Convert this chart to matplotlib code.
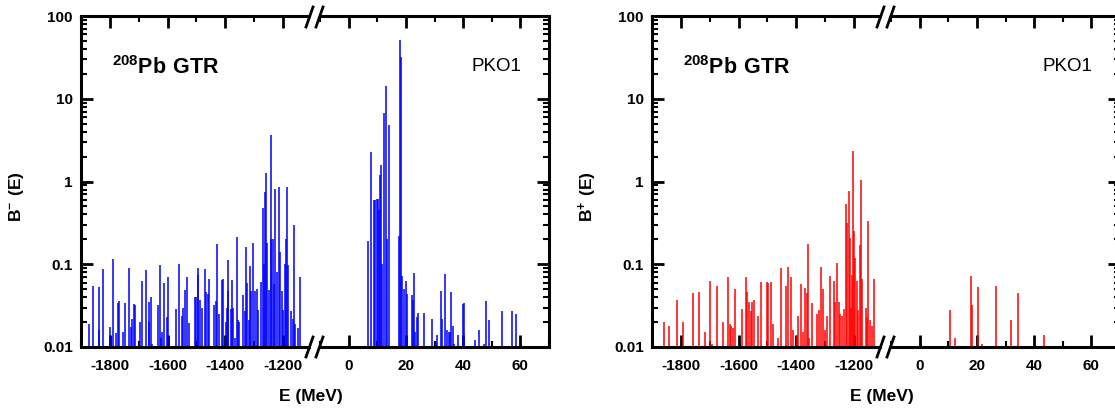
import numpy as np
import matplotlib
matplotlib.use("Agg")
import matplotlib.pyplot as plt
from matplotlib.lines import Line2D
from matplotlib.ticker import LogLocator, NullFormatter, FixedLocator, FixedFormatter, MultipleLocator

plt.rcParams['font.family'] = ['Liberation Sans', 'DejaVu Sans']
plt.rcParams['font.weight'] = 'bold'
plt.rcParams['axes.unicode_minus'] = False
plt.rcParams['mathtext.fontset'] = 'custom'
plt.rcParams['mathtext.rm'] = 'Liberation Sans'
plt.rcParams['mathtext.bf'] = 'Liberation Sans:bold'

# B- strength, deep (anti-nucleon) region
e_minus_low = [-1871, -1857, -1839, -1836, -1823, -1801, -1789, -1780, -1773, -1770,
               -1756, -1748, -1734, -1727, -1722, -1718, -1713, -1697, -1689, -1675,
               -1666, -1663, -1659, -1654, -1634, -1626, -1622, -1618, -1612, -1603,
               -1597, -1571, -1562, -1551, -1548, -1539, -1533, -1526, -1506, -1503,
               -1496, -1494, -1488, -1481, -1472, -1468, -1461, -1458, -1440, -1431,
               -1428, -1422, -1413, -1407, -1399, -1395, -1392, -1390, -1381, -1376,
               -1372, -1365, -1361, -1357, -1353, -1337, -1333, -1327, -1324, -1319,
               -1315, -1312, -1304, -1296, -1289, -1286, -1278, -1271, -1266, -1261,
               -1259, -1255, -1250, -1243, -1240, -1235, -1231, -1227, -1222, -1214,
               -1210, -1205, -1200, -1193, -1190, -1186, -1183, -1171, -1167, -1163,
               -1159, -1149, -1141]
b_minus_low = [0.019, 0.054, 0.0525, 0.016, 0.088, 0.0173, 0.115, 0.0147, 0.0337, 0.036,
               0.0153, 0.034, 0.089, 0.0175, 0.0216, 0.033, 0.032, 0.0199, 0.063, 0.085,
               0.020, 0.035, 0.0405, 0.011, 0.032, 0.097, 0.013, 0.015, 0.059, 0.0228,
               0.0695, 0.0288, 0.0998, 0.024, 0.030, 0.0489, 0.070, 0.0195, 0.0402, 0.040,
               0.089, 0.074, 0.037, 0.0294, 0.088, 0.0466, 0.044, 0.0658, 0.032, 0.036,
               0.174, 0.025, 0.065, 0.066, 0.020, 0.030, 0.112, 0.047, 0.029, 0.064,
               0.030, 0.013, 0.212, 0.021, 0.020, 0.043, 0.027, 0.160, 0.060, 0.021,
               0.096, 0.047, 0.179, 0.048, 0.050, 0.028, 0.061, 0.474, 0.100, 0.75,
               1.26, 0.18, 0.049, 3.65, 0.20, 0.20, 0.058, 0.82, 0.080, 0.87,
               0.14, 0.048, 0.028, 0.100, 0.20, 0.85, 0.097, 0.027, 0.022, 0.298,
               0.019, 0.017, 0.071]

# B- strength, positive energies
e_minus_high = [6.6, 7.9, 8.9, 9.3, 9.8, 10.1, 10.5, 10.8, 11.3, 11.6,
                12.3, 12.9, 13.3, 14.1, 17.5, 18.1, 18.4, 18.8, 19.3, 19.9,
                20.5, 22.0, 22.5, 23.0, 23.3, 23.8, 24.4, 26.4, 29.0, 30.4,
                30.7, 32.3, 32.7, 33.5, 34.5, 35.0, 35.4, 35.7, 36.5, 36.8,
                38.3, 39.8, 40.4, 44.1, 45.6, 47.3, 48.1, 48.9, 53.6, 56.9,
                58.6]
b_minus_high = [0.193, 2.29, 0.60, 0.60, 0.62, 0.61, 0.45, 1.2, 1.58, 0.10,
                6.7, 14.3, 0.20, 4.78, 0.22, 51, 31.6, 0.072, 0.05, 0.063,
                0.044, 0.042, 0.037, 0.079, 0.015, 0.023, 0.026, 0.026, 0.022, 0.0115,
                0.014, 0.048, 0.022, 0.077, 0.016, 0.015, 0.015, 0.046, 0.018, 0.011,
                0.014, 0.033, 0.034, 0.012, 0.016, 0.011, 0.036, 0.021, 0.027, 0.027,
                0.025]

# B+ strength, deep region
e_plus_low = [-1860, -1842, -1815, -1794, -1759, -1738, -1716, -1699, -1693, -1676,
              -1655, -1638, -1630, -1625, -1621, -1614, -1589, -1574, -1570, -1564,
              -1558, -1554, -1546, -1533, -1522, -1503, -1497, -1488, -1480, -1465,
              -1454, -1436, -1428, -1420, -1410, -1398, -1395, -1385, -1378, -1369,
              -1364, -1361, -1355, -1347, -1330, -1320, -1316, -1307, -1301, -1295,
              -1283, -1270, -1266, -1260, -1253, -1248, -1241, -1236, -1229, -1225,
              -1219, -1214, -1211, -1207, -1203, -1199, -1197, -1191, -1185, -1180,
              -1175, -1171, -1160, -1154, -1150, -1143, -1137, -1130]
b_plus_low = [0.0202, 0.018, 0.037, 0.020, 0.0446, 0.046, 0.015, 0.063, 0.011, 0.054,
              0.020, 0.071, 0.019, 0.018, 0.017, 0.050, 0.029, 0.070, 0.046, 0.035,
              0.027, 0.035, 0.037, 0.024, 0.061, 0.061, 0.059, 0.061, 0.019, 0.013,
              0.089, 0.054, 0.093, 0.070, 0.016, 0.014, 0.024, 0.057, 0.015, 0.052,
              0.045, 0.176, 0.013, 0.034, 0.025, 0.028, 0.093, 0.050, 0.016, 0.024,
              0.072, 0.062, 0.035, 0.103, 0.035, 0.025, 0.024, 0.029, 0.535, 0.318,
              0.77, 0.21, 0.030, 0.075, 2.34, 0.25, 0.12, 0.063, 0.028, 0.17,
              1.04, 0.067, 0.030, 0.023, 0.336, 0.021, 0.018, 0.067]

# B+ strength, positive energies
e_plus_high = [10.5, 12.5, 17.8, 18.3, 20.3, 21.8, 26.6, 31.8, 34.5, 39.0, 43.4]
b_plus_high = [0.028, 0.013, 0.072, 0.032, 0.053, 0.011, 0.055, 0.021, 0.045, 0.0102, 0.014]

W, H = 1115, 409
fig = plt.figure(figsize=(W / 100, H / 100), dpi=100)


def px_box(x0, y0, w, h):
    return [x0 / W, 1 - (y0 + h) / H, w / W, h / H]


def fx(x):
    return x / W


def fy(y):
    return 1 - y / H


def style_axis(ax, show_left):
    ax.set_yscale('log')
    ax.set_ylim(0.01, 100)
    for s in ax.spines.values():
        s.set_linewidth(2.2)
    ax.yaxis.set_major_locator(FixedLocator([0.01, 0.1, 1, 10, 100]))
    ax.yaxis.set_major_formatter(FixedFormatter(['0.01', '0.1', '1', '10', '100']))
    ax.yaxis.set_minor_locator(LogLocator(base=10, subs=np.arange(2, 10)))
    ax.yaxis.set_minor_formatter(NullFormatter())
    ax.tick_params(axis='both', which='major', direction='in', labelsize=11,
                   width=2, length=8.5)
    ax.tick_params(axis='both', which='minor', direction='in', width=1.5, length=4.5)
    ax.tick_params(axis='x', which='both', top=True, bottom=True, pad=9)
    ax.tick_params(axis='y', which='both', left=show_left, right=not show_left,
                   labelleft=show_left, labelright=False, pad=6)
    if show_left:
        ax.spines['right'].set_visible(False)
    else:
        ax.spines['left'].set_visible(False)


def draw_panel(x0, e_low, b_low, e_high, b_high, color, ylab):
    axL = fig.add_axes(px_box(x0, 16, 228, 331))
    axR = fig.add_axes(px_box(x0 + 239, 16, 229, 331))

    axL.vlines(e_low, 0.01, b_low, color=color, lw=1.1)
    axR.vlines(e_high, 0.01, b_high, color=color, lw=1.1)

    style_axis(axL, True)
    style_axis(axR, False)
    axL.set_xlim(-1900, -1110)
    axR.set_xlim(-10, 70)
    axL.xaxis.set_major_locator(MultipleLocator(200))
    axL.xaxis.set_minor_locator(MultipleLocator(100))
    axR.xaxis.set_major_locator(MultipleLocator(20))
    axR.xaxis.set_minor_locator(MultipleLocator(10))

    # axis break marks
    for xc in (x0 + 228.5, x0 + 238.5):
        for yc in (17, 347):
            fig.add_artist(Line2D([fx(xc - 3.5), fx(xc + 3.5)], [fy(yc + 10), fy(yc - 10)],
                                  color='black', lw=2))

    fig.text(fx(x0 + 31), fy(74), r'$\mathbf{^{208}Pb\ GTR}$', fontsize=15.5,
             ha='left', va='baseline')
    fig.text(fx(x0 + 440.5), fy(71), 'PKO1', fontsize=13.5, fontweight='normal',
             ha='right', va='baseline')
    fig.text(fx(x0 + 230), fy(396), 'E (MeV)', fontsize=12.5, ha='center', va='center')
    fig.text(fx(x0 - 64), fy(197), ylab, fontsize=12.5, rotation=90,
             ha='center', va='center')


draw_panel(81, e_minus_low, b_minus_low, e_minus_high, b_minus_high, '#0000ff',
           r'$\mathbf{B^{-}\ (E)}$')
draw_panel(652, e_plus_low, b_plus_low, e_plus_high, b_plus_high, '#ff0000',
           r'$\mathbf{B^{+}\ (E)}$')

fig.savefig('out.png', dpi=100, facecolor='white')
